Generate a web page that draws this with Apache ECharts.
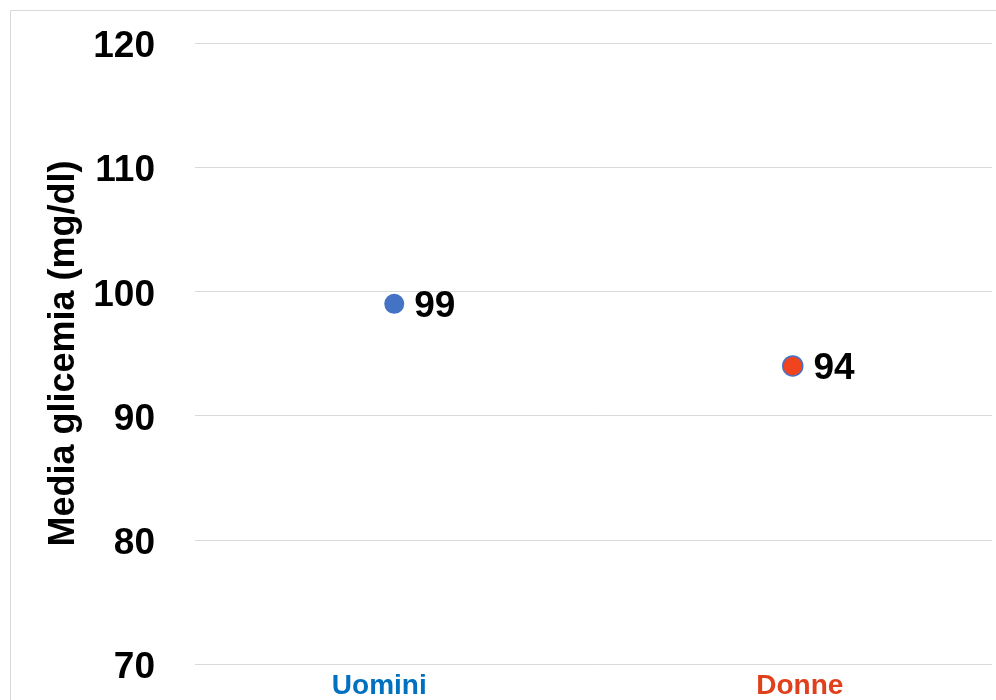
<!DOCTYPE html>
<html lang="it">
<head>
    <meta charset="UTF-8">
    <title>Media glicemia</title>
    <script src="https://cdn.jsdelivr.net/npm/echarts@6/dist/echarts.min.js"></script>
</head>
<body style="margin:0">
<div id="main" style="width: 996px;height:700px;"></div>
<script type="text/javascript">
    var categories = ['Uomini', 'Donne'];
    var values = [99, 94];
    var yTicks = [70, 80, 90, 100, 110, 120];

    var pointColors = ['#4472C4', '#F0441E'];
    var labelColors = ['#0070C0', '#E0401C'];

    var chartDom = document.getElementById('main');
    var myChart = echarts.init(chartDom);
    var option;

    var points = [];
    for (var i = 0; i < values.length; i++) {
        points.push({
            value: values[i],
            itemStyle: {
                color: pointColors[i],
                opacity: 1,
                borderColor: i == 1 ? '#4472C4' : pointColors[i],
                borderWidth: i == 1 ? 1.5 : 0
            }
        });
    }

    option = {
        animation: false,
        graphic: [{
            type: 'rect',
            shape: { x: 10.5, y: 10.5, width: 1000, height: 700 },
            style: { fill: 'none', stroke: '#d9d9d9', lineWidth: 1 },
            z: -1
        }],
        grid: { left: 195, right: 4, top: 43, bottom: 35 },
        xAxis: {
            type: 'category',
            data: categories,
            boundaryGap: true,
            axisLine: { show: false },
            axisTick: { show: false },
            axisLabel: {
                margin: 8,
                formatter: function (v, idx) {
                    return '{c' + idx + '|' + v + '}';
                },
                rich: {
                    c0: { color: labelColors[0], fontSize: 28, fontWeight: 'bold',
                          fontFamily: 'Liberation Sans', padding: [0, 30, 0, 0] },
                    c1: { color: labelColors[1], fontSize: 28, fontWeight: 'bold',
                          fontFamily: 'Liberation Sans', padding: [0, 0, 0, 14] }
                }
            }
        },
        yAxis: {
            type: 'value',
            min: yTicks[0],
            max: yTicks[yTicks.length - 1],
            interval: 10,
            name: 'Media glicemia (mg/dl)',
            nameLocation: 'middle',
            nameGap: 110,
            nameTextStyle: { color: '#000', fontSize: 36, fontWeight: 'bold', fontFamily: 'Liberation Sans' },
            axisLine: { show: false },
            axisTick: { show: false },
            axisLabel: {
                margin: 40,
                formatter: function (v) { return '{t|' + v + '}'; },
                rich: {
                    t: { color: '#000', fontSize: 37, fontWeight: 'bold', fontFamily: 'Liberation Sans',
                         padding: [8, 0, 0, 0] }
                }
            },
            splitLine: { lineStyle: { color: '#d9d9d9', width: 1 } }
        },
        series: [{
            type: 'scatter',
            symbolSize: 20,
            data: points,
            label: {
                show: true,
                position: 'right',
                distance: 10,
                offset: [0, 3],
                color: '#000',
                opacity: 1,
                fontSize: 37,
                fontWeight: 'bold',
                fontFamily: 'Liberation Sans'
            }
        }]
    };

    option && myChart.setOption(option);
</script>
</body>
</html>
